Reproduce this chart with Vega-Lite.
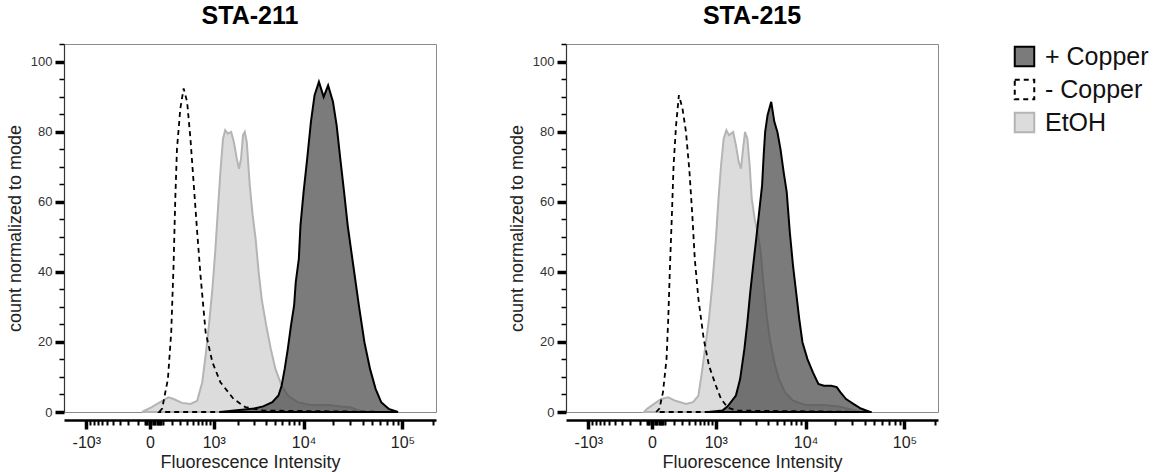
{
"$schema": "https://vega.github.io/schema/vega-lite/v6.json",
"background": "white",
"padding": {"left": 5, "top": 4, "right": 5, "bottom": 5},
"config": {
  "font": "Liberation Sans",
  "view": {"stroke": "#8a8a8a", "strokeWidth": 1},
  "axis": {"labelFont": "Liberation Sans", "titleFont": "Liberation Sans", "grid": false}
},
"data": {"values": [
{"panel":"STA-211","group":"EtOH","x":-60,"y":0},
{"panel":"STA-211","group":"EtOH","x":12,"y":1.4},
{"panel":"STA-211","group":"EtOH","x":79,"y":2.8},
{"panel":"STA-211","group":"EtOH","x":159,"y":4.2},
{"panel":"STA-211","group":"EtOH","x":216,"y":3.7},
{"panel":"STA-211","group":"EtOH","x":327,"y":2.6},
{"panel":"STA-211","group":"EtOH","x":461,"y":2.3},
{"panel":"STA-211","group":"EtOH","x":589,"y":3.2},
{"panel":"STA-211","group":"EtOH","x":699,"y":8.5},
{"panel":"STA-211","group":"EtOH","x":779,"y":16.1},
{"panel":"STA-211","group":"EtOH","x":865,"y":24.7},
{"panel":"STA-211","group":"EtOH","x":961,"y":35.1},
{"panel":"STA-211","group":"EtOH","x":1046,"y":45.6},
{"panel":"STA-211","group":"EtOH","x":1127,"y":57},
{"panel":"STA-211","group":"EtOH","x":1217,"y":68.5},
{"panel":"STA-211","group":"EtOH","x":1311,"y":78},
{"panel":"STA-211","group":"EtOH","x":1394,"y":80.4},
{"panel":"STA-211","group":"EtOH","x":1501,"y":79.4},
{"panel":"STA-211","group":"EtOH","x":1643,"y":79.9},
{"panel":"STA-211","group":"EtOH","x":1770,"y":77},
{"panel":"STA-211","group":"EtOH","x":1911,"y":72.3},
{"panel":"STA-211","group":"EtOH","x":2027,"y":69.4},
{"panel":"STA-211","group":"EtOH","x":2140,"y":72.3},
{"panel":"STA-211","group":"EtOH","x":2254,"y":79},
{"panel":"STA-211","group":"EtOH","x":2358,"y":79.9},
{"panel":"STA-211","group":"EtOH","x":2484,"y":77},
{"panel":"STA-211","group":"EtOH","x":2682,"y":64.7},
{"panel":"STA-211","group":"EtOH","x":2889,"y":56.1},
{"panel":"STA-211","group":"EtOH","x":3112,"y":49.4},
{"panel":"STA-211","group":"EtOH","x":3361,"y":39.9},
{"panel":"STA-211","group":"EtOH","x":3622,"y":32.3},
{"panel":"STA-211","group":"EtOH","x":4054,"y":24.7},
{"panel":"STA-211","group":"EtOH","x":4538,"y":18},
{"panel":"STA-211","group":"EtOH","x":5081,"y":12.3},
{"panel":"STA-211","group":"EtOH","x":5909,"y":7.5},
{"panel":"STA-211","group":"EtOH","x":6862,"y":4.7},
{"panel":"STA-211","group":"EtOH","x":8597,"y":2.8},
{"panel":"STA-211","group":"EtOH","x":11890,"y":2},
{"panel":"STA-211","group":"EtOH","x":18270,"y":2},
{"panel":"STA-211","group":"EtOH","x":23670,"y":1.6},
{"panel":"STA-211","group":"EtOH","x":30650,"y":1.3},
{"panel":"STA-211","group":"EtOH","x":36460,"y":0.4},
{"panel":"STA-211","group":"EtOH","x":43360,"y":0},
{"panel":"STA-211","group":"+ Copper","x":1200,"y":0},
{"panel":"STA-211","group":"+ Copper","x":3003,"y":1.0},
{"panel":"STA-211","group":"+ Copper","x":3760,"y":1.6},
{"panel":"STA-211","group":"+ Copper","x":4716,"y":2.8},
{"panel":"STA-211","group":"+ Copper","x":5472,"y":4.7},
{"panel":"STA-211","group":"+ Copper","x":5909,"y":7.5},
{"panel":"STA-211","group":"+ Copper","x":6366,"y":12.3},
{"panel":"STA-211","group":"+ Copper","x":6862,"y":18},
{"panel":"STA-211","group":"+ Copper","x":7406,"y":24.7},
{"panel":"STA-211","group":"+ Copper","x":7980,"y":30.4},
{"panel":"STA-211","group":"+ Copper","x":8291,"y":37},
{"panel":"STA-211","group":"+ Copper","x":8930,"y":43.7},
{"panel":"STA-211","group":"+ Copper","x":9280,"y":53.2},
{"panel":"STA-211","group":"+ Copper","x":10000,"y":62.8},
{"panel":"STA-211","group":"+ Copper","x":10890,"y":72.3},
{"panel":"STA-211","group":"+ Copper","x":11890,"y":82.8},
{"panel":"STA-211","group":"+ Copper","x":12960,"y":90.4},
{"panel":"STA-211","group":"+ Copper","x":14360,"y":94.2},
{"panel":"STA-211","group":"+ Copper","x":16050,"y":89.9},
{"panel":"STA-211","group":"+ Copper","x":17810,"y":93.2},
{"panel":"STA-211","group":"+ Copper","x":19950,"y":88.5},
{"panel":"STA-211","group":"+ Copper","x":21740,"y":81.8},
{"panel":"STA-211","group":"+ Copper","x":23670,"y":72.3},
{"panel":"STA-211","group":"+ Copper","x":25850,"y":62.8},
{"panel":"STA-211","group":"+ Copper","x":28140,"y":53.2},
{"panel":"STA-211","group":"+ Copper","x":32030,"y":41.8},
{"panel":"STA-211","group":"+ Copper","x":36460,"y":30.4},
{"panel":"STA-211","group":"+ Copper","x":41490,"y":19.9},
{"panel":"STA-211","group":"+ Copper","x":47240,"y":12.3},
{"panel":"STA-211","group":"+ Copper","x":53750,"y":6.6},
{"panel":"STA-211","group":"+ Copper","x":61160,"y":2.8},
{"panel":"STA-211","group":"+ Copper","x":72730,"y":0.9},
{"panel":"STA-211","group":"+ Copper","x":90180,"y":0},
{"panel":"STA-211","group":"- Copper","x":70,"y":0},
{"panel":"STA-211","group":"- Copper","x":97,"y":1.0},
{"panel":"STA-211","group":"- Copper","x":153,"y":9.4},
{"panel":"STA-211","group":"- Copper","x":189,"y":22.8},
{"panel":"STA-211","group":"- Copper","x":216,"y":41.8},
{"panel":"STA-211","group":"- Copper","x":237,"y":60.9},
{"panel":"STA-211","group":"- Copper","x":258,"y":75},
{"panel":"STA-211","group":"- Copper","x":303,"y":86.6},
{"panel":"STA-211","group":"- Copper","x":351,"y":92.3},
{"panel":"STA-211","group":"- Copper","x":405,"y":88.5},
{"panel":"STA-211","group":"- Copper","x":461,"y":78},
{"panel":"STA-211","group":"- Copper","x":522,"y":64.7},
{"panel":"STA-211","group":"- Copper","x":589,"y":51.3},
{"panel":"STA-211","group":"- Copper","x":660,"y":38.9},
{"panel":"STA-211","group":"- Copper","x":779,"y":22.8},
{"panel":"STA-211","group":"- Copper","x":961,"y":14.2},
{"panel":"STA-211","group":"- Copper","x":1217,"y":8.5},
{"panel":"STA-211","group":"- Copper","x":1758,"y":3.7},
{"panel":"STA-211","group":"- Copper","x":2395,"y":1.4},
{"panel":"STA-211","group":"- Copper","x":3760,"y":0.4},
{"panel":"STA-211","group":"- Copper","x":85700,"y":0},
{"panel":"STA-215","group":"EtOH","x":-60,"y":0},
{"panel":"STA-215","group":"EtOH","x":-36,"y":0.9},
{"panel":"STA-215","group":"EtOH","x":15,"y":2.3},
{"panel":"STA-215","group":"EtOH","x":71,"y":3.7},
{"panel":"STA-215","group":"EtOH","x":136,"y":4.2},
{"panel":"STA-215","group":"EtOH","x":214,"y":3.2},
{"panel":"STA-215","group":"EtOH","x":356,"y":2.3},
{"panel":"STA-215","group":"EtOH","x":472,"y":2.8},
{"panel":"STA-215","group":"EtOH","x":573,"y":4.7},
{"panel":"STA-215","group":"EtOH","x":646,"y":11.3},
{"panel":"STA-215","group":"EtOH","x":725,"y":18.9},
{"panel":"STA-215","group":"EtOH","x":814,"y":26.6},
{"panel":"STA-215","group":"EtOH","x":908,"y":37},
{"panel":"STA-215","group":"EtOH","x":1007,"y":49.4},
{"panel":"STA-215","group":"EtOH","x":1087,"y":60.9},
{"panel":"STA-215","group":"EtOH","x":1171,"y":70.4},
{"panel":"STA-215","group":"EtOH","x":1262,"y":78},
{"panel":"STA-215","group":"EtOH","x":1362,"y":80.4},
{"panel":"STA-215","group":"EtOH","x":1468,"y":79},
{"panel":"STA-215","group":"EtOH","x":1643,"y":79.9},
{"panel":"STA-215","group":"EtOH","x":1770,"y":76.1},
{"panel":"STA-215","group":"EtOH","x":1911,"y":71.3},
{"panel":"STA-215","group":"EtOH","x":2027,"y":69.4},
{"panel":"STA-215","group":"EtOH","x":2140,"y":75.1},
{"panel":"STA-215","group":"EtOH","x":2254,"y":79.9},
{"panel":"STA-215","group":"EtOH","x":2395,"y":78},
{"panel":"STA-215","group":"EtOH","x":2541,"y":70.4},
{"panel":"STA-215","group":"EtOH","x":2682,"y":60.9},
{"panel":"STA-215","group":"EtOH","x":2889,"y":55.1},
{"panel":"STA-215","group":"EtOH","x":3112,"y":51.3},
{"panel":"STA-215","group":"EtOH","x":3361,"y":45.6},
{"panel":"STA-215","group":"EtOH","x":3622,"y":36.1},
{"panel":"STA-215","group":"EtOH","x":3902,"y":27.5},
{"panel":"STA-215","group":"EtOH","x":4212,"y":20.9},
{"panel":"STA-215","group":"EtOH","x":4716,"y":14.2},
{"panel":"STA-215","group":"EtOH","x":5278,"y":9.4},
{"panel":"STA-215","group":"EtOH","x":6127,"y":5.6},
{"panel":"STA-215","group":"EtOH","x":7406,"y":3.2},
{"panel":"STA-215","group":"EtOH","x":10000,"y":2},
{"panel":"STA-215","group":"EtOH","x":15400,"y":2},
{"panel":"STA-215","group":"EtOH","x":21740,"y":1.6},
{"panel":"STA-215","group":"EtOH","x":28140,"y":0.8},
{"panel":"STA-215","group":"EtOH","x":36460,"y":0},
{"panel":"STA-215","group":"+ Copper","x":800,"y":0},
{"panel":"STA-215","group":"+ Copper","x":1217,"y":0.4},
{"panel":"STA-215","group":"+ Copper","x":1413,"y":1.6},
{"panel":"STA-215","group":"+ Copper","x":1770,"y":4.7},
{"panel":"STA-215","group":"+ Copper","x":1982,"y":9.4},
{"panel":"STA-215","group":"+ Copper","x":2218,"y":18},
{"panel":"STA-215","group":"+ Copper","x":2395,"y":25.6},
{"panel":"STA-215","group":"+ Copper","x":2581,"y":34.2},
{"panel":"STA-215","group":"+ Copper","x":2781,"y":41.8},
{"panel":"STA-215","group":"+ Copper","x":3003,"y":49.4},
{"panel":"STA-215","group":"+ Copper","x":3234,"y":57},
{"panel":"STA-215","group":"+ Copper","x":3484,"y":64.7},
{"panel":"STA-215","group":"+ Copper","x":3622,"y":73.2},
{"panel":"STA-215","group":"+ Copper","x":3760,"y":79.9},
{"panel":"STA-215","group":"+ Copper","x":3990,"y":84.7},
{"panel":"STA-215","group":"+ Copper","x":4367,"y":88.5},
{"panel":"STA-215","group":"+ Copper","x":4716,"y":82.8},
{"panel":"STA-215","group":"+ Copper","x":5081,"y":79.9},
{"panel":"STA-215","group":"+ Copper","x":5472,"y":75.1},
{"panel":"STA-215","group":"+ Copper","x":5909,"y":68.5},
{"panel":"STA-215","group":"+ Copper","x":6366,"y":62.8},
{"panel":"STA-215","group":"+ Copper","x":6862,"y":51.3},
{"panel":"STA-215","group":"+ Copper","x":7406,"y":41.8},
{"panel":"STA-215","group":"+ Copper","x":7980,"y":34.2},
{"panel":"STA-215","group":"+ Copper","x":8597,"y":26.6},
{"panel":"STA-215","group":"+ Copper","x":9280,"y":19.9},
{"panel":"STA-215","group":"+ Copper","x":10450,"y":15.1},
{"panel":"STA-215","group":"+ Copper","x":11890,"y":11.3},
{"panel":"STA-215","group":"+ Copper","x":13530,"y":8},
{"panel":"STA-215","group":"+ Copper","x":15400,"y":7.5},
{"panel":"STA-215","group":"+ Copper","x":18270,"y":7.5},
{"panel":"STA-215","group":"+ Copper","x":20800,"y":7.1},
{"panel":"STA-215","group":"+ Copper","x":22710,"y":5.6},
{"panel":"STA-215","group":"+ Copper","x":25850,"y":3.7},
{"panel":"STA-215","group":"+ Copper","x":30650,"y":2.3},
{"panel":"STA-215","group":"+ Copper","x":36460,"y":1.0},
{"panel":"STA-215","group":"+ Copper","x":45190,"y":0},
{"panel":"STA-215","group":"- Copper","x":30,"y":0},
{"panel":"STA-215","group":"- Copper","x":56,"y":1.0},
{"panel":"STA-215","group":"- Copper","x":86,"y":5.6},
{"panel":"STA-215","group":"- Copper","x":119,"y":15.1},
{"panel":"STA-215","group":"- Copper","x":136,"y":26.6},
{"panel":"STA-215","group":"- Copper","x":154,"y":41.8},
{"panel":"STA-215","group":"- Copper","x":174,"y":56.1},
{"panel":"STA-215","group":"- Copper","x":193,"y":70.4},
{"panel":"STA-215","group":"- Copper","x":222,"y":81.8},
{"panel":"STA-215","group":"- Copper","x":257,"y":90.4},
{"panel":"STA-215","group":"- Copper","x":305,"y":86.6},
{"panel":"STA-215","group":"- Copper","x":356,"y":79.9},
{"panel":"STA-215","group":"- Copper","x":411,"y":68.5},
{"panel":"STA-215","group":"- Copper","x":459,"y":56.1},
{"panel":"STA-215","group":"- Copper","x":503,"y":43.7},
{"panel":"STA-215","group":"- Copper","x":573,"y":32.3},
{"panel":"STA-215","group":"- Copper","x":686,"y":20.9},
{"panel":"STA-215","group":"- Copper","x":814,"y":13.2},
{"panel":"STA-215","group":"- Copper","x":1007,"y":7.5},
{"panel":"STA-215","group":"- Copper","x":1171,"y":3.7},
{"panel":"STA-215","group":"- Copper","x":1413,"y":1.3},
{"panel":"STA-215","group":"- Copper","x":1770,"y":0.4},
{"panel":"STA-215","group":"- Copper","x":47200,"y":0}
]},
"facet": {"column": {"field": "panel", "type": "nominal", "title": null,
  "header": {"labelFont": "Liberation Sans", "labelFontSize": 25, "labelFontWeight": "bold", "labelColor": "black", "labelPadding": 8}}},
"spacing": 70,
"resolve": {"axis": {"y": "independent"}},
"spec": {
  "width": 372,
  "height": 368,
  "encoding": {
    "x": {"field": "x", "type": "quantitative",
      "scale": {"type": "symlog", "constant": 300, "domain": [-1873, 216800], "nice": false, "zero": false},
      "axis": {
        "title": "Fluorescence Intensity", "titleFontSize": 18, "titleFontWeight": "normal", "titleColor": "#222", "titlePadding": 3,
        "values": [-1000,-900,-800,-700,-600,-500,-400,-300,-200,-100,-40,-30,-20,-10,0,10,20,30,40,50,60,70,80,90,100,200,300,400,500,600,700,800,900,1000,2000,3000,4000,5000,6000,7000,8000,9000,10000,20000,30000,40000,50000,60000,70000,80000,90000,100000,200000],
        "labelExpr": "datum.value === 1000 ? '10³' : datum.value === 10000 ? '10⁴' : datum.value === 100000 ? '10⁵' : datum.value === -1000 ? '-10³' : datum.value === 0 ? '0' : ''",
        "labelFontSize": 16, "labelColor": "#222", "labelPadding": 5, "labelOverlap": false, "labelFlush": false,
        "domainColor": "black", "domainWidth": 2.5,
        "tickColor": "black",
        "tickSize": {"condition": {"test": "indexof([-1000,0,1000,10000,100000], datum.value) >= 0", "value": 9}, "value": 5},
        "tickWidth": {"condition": {"test": "indexof([-1000,0,1000,10000,100000], datum.value) >= 0", "value": 3.5}, "value": 2}
      }},
    "y": {"field": "y", "type": "quantitative", "stack": null,
      "scale": {"domain": [0, 105], "nice": false},
      "axis": {
        "title": "count normalized to mode", "titleFontSize": 18, "titleFontWeight": "normal", "titleColor": "#222", "titlePadding": 6,
        "values": [0,5,10,15,20,25,30,35,40,45,50,55,60,65,70,75,80,85,90,95,100,105],
        "labelExpr": "datum.value % 20 === 0 ? datum.label : ''",
        "labelFontSize": 13, "labelColor": "#333", "labelPadding": 3, "labelOverlap": false, "labelFlush": false,
        "domainColor": "#333", "domainWidth": 1.2,
        "tickColor": "black",
        "tickSize": {"condition": {"test": "datum.value % 20 === 0", "value": 9}, "value": 5},
        "tickWidth": {"condition": {"test": "datum.value % 20 === 0", "value": 3.5}, "value": 1.5}
      }},
    "fill": {"field": "group", "type": "nominal",
      "scale": {"domain": ["+ Copper", "- Copper", "EtOH"], "range": ["rgba(72,72,72,0.72)", "rgba(255,255,255,0)", "#dcdcdc"]},
      "legend": {"title": null, "orient": "right", "offset": 73, "symbolType": "square", "symbolSize": 380, "symbolStrokeWidth": 2, "labelFont": "Liberation Sans", "labelFontSize": 25, "labelColor": "#111", "rowPadding": 4, "labelOffset": 8,
        "symbolDash": {"expr": "datum.value === '- Copper' ? [5, 4] : [1, 0]"}}},
    "stroke": {"field": "group", "type": "nominal",
      "scale": {"domain": ["+ Copper", "- Copper", "EtOH"], "range": ["#000000", "#000000", "#b4b4b4"]},
      "legend": {"title": null, "orient": "right", "offset": 73, "symbolType": "square", "symbolSize": 380, "symbolStrokeWidth": 2, "labelFont": "Liberation Sans", "labelFontSize": 25, "labelColor": "#111", "rowPadding": 4, "labelOffset": 8,
        "symbolDash": {"expr": "datum.value === '- Copper' ? [5, 4] : [1, 0]"}}}
  },
  "layer": [
    {"transform": [{"filter": "datum.group === 'EtOH'"}], "mark": {"type": "area", "strokeWidth": 2, "opacity": 1, "fillOpacity": 1}},
    {"transform": [{"filter": "datum.group === '+ Copper'"}], "mark": {"type": "area", "strokeWidth": 2, "opacity": 1, "fillOpacity": 1}},
    {"transform": [{"filter": "datum.group === '- Copper'"}], "mark": {"type": "area", "strokeWidth": 1.8, "strokeDash": [5, 4], "opacity": 1, "fillOpacity": 1}}
  ]
}
}
